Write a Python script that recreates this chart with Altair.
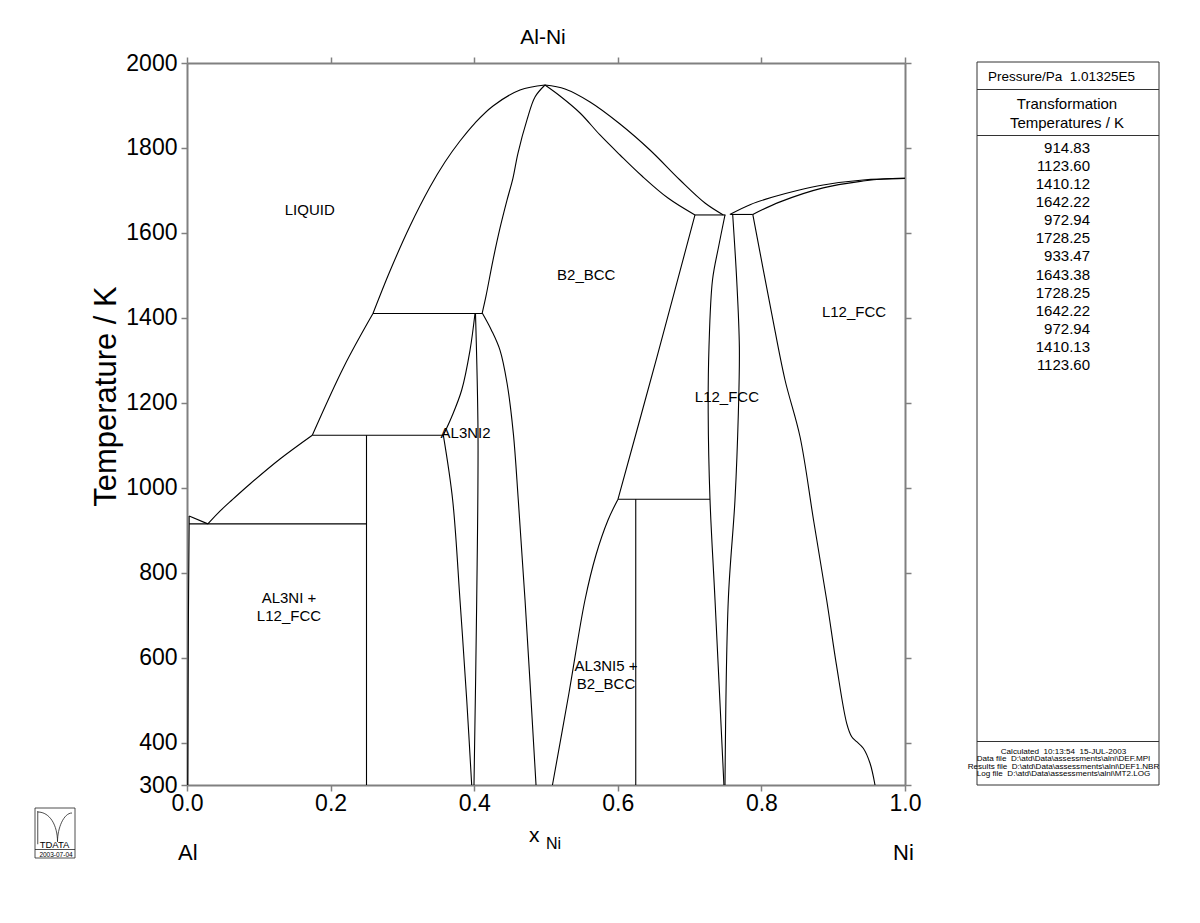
import altair as alt
import pandas as pd

# ---------------- phase-boundary data (x = mole fraction Ni, T in K) ----------------
al_liq_x = [0.003, 0.029]
al_liq_T = [933.47, 914.83]

al_solvus_x = [0.003, 0.003, 0.002, 0.001]
al_solvus_T = [933.47, 914.83, 700, 300]

eut_915_x = [0.003, 0.25]
eut_915_T = [914.83, 914.83]

al3ni_liq_x = [0.029, 0.0432, 0.0627, 0.0877, 0.1295, 0.1745]
al3ni_liq_T = [914.83, 940.4, 971.0, 1008.7, 1067.6, 1123.6]

per_1124_x = [0.1745, 0.357]
per_1124_T = [1123.6, 1123.6]

al3ni_x = [0.25, 0.25]
al3ni_T = [1123.6, 300]

liq_mid_x = [0.1745, 0.2185, 0.259]
liq_mid_T = [1123.6, 1285, 1410.12]

per_1410_x = [0.259, 0.412]
per_1410_T = [1410.12, 1410.12]

b2_liq_left_x = [0.259, 0.2827, 0.3106, 0.3384, 0.3593, 0.3802, 0.4011, 0.4262, 0.4638, 0.4986]
b2_liq_left_T = [1410.12, 1510.2, 1616.2, 1708.0, 1766.9, 1816.3, 1858.7, 1898.8, 1936.4, 1948.2]

b2_sol_left_x = [0.411, 0.4164, 0.4262, 0.4359, 0.4457, 0.454, 0.461, 0.4735, 0.4847, 0.4986]
b2_sol_left_T = [1410.12, 1451, 1536, 1611, 1677, 1729, 1788, 1866, 1920, 1948.2]

b2_liq_right_x = [0.4986, 0.5265, 0.5613, 0.6031, 0.6448, 0.6866, 0.7214, 0.747]
b2_liq_right_T = [1948.2, 1938.8, 1908.2, 1856.4, 1795.2, 1724.5, 1670.4, 1642.22]

b2_sol_right_x = [0.4986, 0.5195, 0.5474, 0.5752, 0.6031, 0.6337, 0.6699, 0.7075]
b2_sol_right_T = [1948.2, 1922.3, 1882.3, 1830.5, 1783.4, 1733.9, 1682.1, 1642.22]

per_1642_x = [0.7075, 0.75]
per_1642_T = [1642.22, 1642.22]

eut_1643_x = [0.757, 0.788]
eut_1643_T = [1643.38, 1643.38]

fcc_liq_x = [0.756, 0.785, 0.816, 0.85, 0.886, 0.9415, 1.0]
fcc_liq_T = [1643.38, 1667, 1684.5, 1700, 1712.7, 1724.5, 1728.25]

fcc_sol_x = [0.788, 0.826, 0.886, 0.9415, 0.97, 1.0]
fcc_sol_T = [1643.38, 1673, 1706, 1722, 1727, 1728.25]

b2_right_x = [0.7075, 0.6545, 0.6003]
b2_right_T = [1642.22, 1307.6, 972.94]

per_973_x = [0.6003, 0.7284]
per_973_T = [972.94, 972.94]

al3ni5_x = [0.625, 0.625]
al3ni5_T = [972.94, 300]

b2_solvus_x = [0.6003, 0.5864, 0.5696, 0.5543, 0.532, 0.509]
b2_solvus_T = [972.94, 924, 841.6, 735.6, 516.6, 300]

gp_left_x = [0.7493, 0.7403, 0.7319, 0.727, 0.7259, 0.7284, 0.7354, 0.7478]
gp_left_T = [1642.22, 1566.8, 1489.1, 1331.3, 1175.9, 972.94, 735.6, 300]

gp_right_x = [0.76, 0.7656, 0.7693, 0.7679, 0.7632, 0.7539, 0.7493]
gp_right_T = [1643.38, 1489.1, 1331.3, 1175.9, 971, 735.6, 300]

gamma_x = [0.788, 0.8143, 0.8329, 0.8538, 0.8726, 0.8909, 0.9049, 0.9188, 0.9258, 0.9327, 0.9419, 0.9513, 0.9582]
gamma_T = [1643.38, 1410.6, 1253.6, 1120, 924, 735.6, 578.6, 445.3, 413.7, 402, 386.4, 351.1, 300]

al3ni2_up_x = [0.4011, 0.3942, 0.3826, 0.3687, 0.357]
al3ni2_up_T = [1410.12, 1324, 1230, 1167, 1123.6]

al3ni2_low_x = [0.357, 0.37, 0.3802, 0.3896, 0.3965]
al3ni2_low_T = [1123.6, 971, 735.6, 500, 300]

al3ni2_right_x = [0.4018, 0.4053, 0.4035, 0.3997]
al3ni2_right_T = [1410.12, 1129, 735.6, 300]

b2_left_x = [0.4116, 0.424, 0.4359, 0.4457, 0.4545, 0.4614, 0.4708, 0.4861]
b2_left_T = [1410.12, 1371, 1324, 1246.5, 1128, 971, 735.6, 300]

# ---------------- phase labels (multi-line labels: T of first line) ----------------
label_x = [0.171, 0.556, 0.929, 0.752, 0.388, 0.142, 0.5836]
label_T = [1654, 1501, 1414, 1214, 1129, 740.3, 580.2]
label_text = ["LIQUID", "B2_BCC", "L12_FCC", "L12_FCC", "AL3NI2",
              "AL3NI +\nL12_FCC", "AL3NI5 +\nB2_BCC"]

# ---------------- side table ----------------
NB = "\u00a0"
pressure_text = f"Pressure/Pa{NB}{NB}1.01325E5"
table_header = ["Transformation", "Temperatures / K"]
trans_temps = ["914.83", "1123.60", "1410.12", "1642.22", "972.94", "1728.25", "933.47",
               "1643.38", "1728.25", "1642.22", "972.94", "1410.13", "1123.60"]
footer_lines = [f"Calculated{NB}{NB}10:13:54{NB}{NB}15-JUL-2003",
                f"Data file{NB}{NB}D:\\atd\\Data\\assessments\\alni\\DEF.MPI",
                f"Results file{NB}{NB}D:\\atd\\Data\\assessments\\alni\\DEF1.NBR",
                f"Log file{NB}{NB}D:\\atd\\Data\\assessments\\alni\\MT2.LOG"]

x_ticks = [0.0, 0.2, 0.4, 0.6, 0.8, 1.0]
y_ticks = [300, 400, 600, 800, 1000, 1200, 1400, 1600, 1800, 2000]

curves = [
    ("al_liq", al_liq_x, al_liq_T), ("al_solvus", al_solvus_x, al_solvus_T),
    ("eut915", eut_915_x, eut_915_T), ("al3ni_liq", al3ni_liq_x, al3ni_liq_T),
    ("per1124", per_1124_x, per_1124_T), ("al3ni", al3ni_x, al3ni_T),
    ("liq_mid", liq_mid_x, liq_mid_T), ("per1410", per_1410_x, per_1410_T),
    ("b2_liq_l", b2_liq_left_x, b2_liq_left_T), ("b2_sol_l", b2_sol_left_x, b2_sol_left_T),
    ("b2_liq_r", b2_liq_right_x, b2_liq_right_T), ("b2_sol_r", b2_sol_right_x, b2_sol_right_T),
    ("per1642", per_1642_x, per_1642_T), ("eut1643", eut_1643_x, eut_1643_T),
    ("fcc_liq", fcc_liq_x, fcc_liq_T), ("fcc_sol", fcc_sol_x, fcc_sol_T),
    ("b2_right", b2_right_x, b2_right_T), ("per973", per_973_x, per_973_T),
    ("al3ni5", al3ni5_x, al3ni5_T), ("b2_solvus", b2_solvus_x, b2_solvus_T),
    ("gp_left", gp_left_x, gp_left_T), ("gp_right", gp_right_x, gp_right_T),
    ("gamma", gamma_x, gamma_T), ("al3ni2_up", al3ni2_up_x, al3ni2_up_T),
    ("al3ni2_low", al3ni2_low_x, al3ni2_low_T), ("al3ni2_r", al3ni2_right_x, al3ni2_right_T),
    ("b2_left", b2_left_x, b2_left_T),
]
rows = []
for name, xs_, ts_ in curves:
    for i, (xv, tv) in enumerate(zip(xs_, ts_)):
        rows.append({"seg": name, "i": i, "x": xv, "T": tv})
lines_df = pd.DataFrame(rows)
labels_df = pd.DataFrame({"x": label_x, "T": label_T, "label": label_text})
one = pd.DataFrame({"a": [0]})

FONT = "Liberation Sans"
FRAME = "#808080"
W, H = 718, 722

xs = alt.Scale(domain=[0, 1], nice=False, zero=False)
ys = alt.Scale(domain=[300, 2000], nice=False, zero=False)

common_axis = dict(grid=False, tickSize=6, tickWidth=1.5, tickColor=FRAME,
                   domainColor=FRAME, domainWidth=2, labelFont=FONT,
                   labelColor="black", labelFontSize=23)

lines = alt.Chart(lines_df).mark_line(
    color="black", strokeWidth=1.1, interpolate="catmull-rom"
).encode(
    x=alt.X("x:Q", scale=xs, axis=alt.Axis(orient="bottom", values=x_ticks, format=".1f",
                                            title=None, labelFlush=False, labelPadding=1,
                                            **common_axis)),
    y=alt.Y("T:Q", scale=ys, axis=alt.Axis(orient="left", values=y_ticks, format="d",
                                            labelPadding=4, labelFlush=False,
                                            title="Temperature / K", titleFont=FONT,
                                            titleFontSize=31, titleFontWeight="normal",
                                            titleColor="black", titleX=-81, titleY=333,
                                            titleAngle=270, titleAlign="center",
                                            titleBaseline="middle", **common_axis)),
    detail="seg:N",
    order="i:Q",
)

frame = alt.Chart(lines_df).mark_point(opacity=0).encode(
    x=alt.X("x:Q", scale=xs, axis=alt.Axis(orient="top", values=x_ticks, labels=False,
                                            title=None, **common_axis)),
    y=alt.Y("T:Q", scale=ys, axis=alt.Axis(orient="right", values=y_ticks, labels=False,
                                            title=None, **common_axis)),
)

phase_labels = alt.Chart(labels_df).mark_text(
    font=FONT, fontSize=15, color="black", lineBreak="\n", lineHeight=18,
    align="center", baseline="middle"
).encode(
    x=alt.X("x:Q", scale=xs, axis=None),
    y=alt.Y("T:Q", scale=ys, axis=None),
    text="label:N",
)


def ptext(x, y, text, size, align="center", baseline="alphabetic", line_height=None):
    kw = dict(font=FONT, fontSize=size, color="black", align=align, baseline=baseline)
    if line_height is not None:
        kw["lineHeight"] = line_height
    return alt.Chart(one).mark_text(**kw).encode(
        x=alt.value(x), y=alt.value(y), text=alt.value(text))


def prule(x1, y1, x2, y2, color="black", width=1):
    return alt.Chart(one).mark_rule(color=color, strokeWidth=width).encode(
        x=alt.value(x1), y=alt.value(y1), x2=alt.value(x2), y2=alt.value(y2))


# plot-area origin is at page (187, 63); pixel values below are relative to it
title = ptext(356, -19, "Al-Ni", 21)
x_sym = ptext(342, 779, "x", 21, align="left")
x_sub = ptext(359, 786, "Ni", 16, align="left")
al_end = ptext(-9, 797, "Al", 22, align="left")
ni_end = ptext(706, 797, "Ni", 22, align="left")

box = alt.Chart(one).mark_rect(fillOpacity=0, stroke="#333", strokeWidth=1).encode(
    x=alt.value(790), x2=alt.value(972), y=alt.value(-1), y2=alt.value(722))
div1 = prule(790, 26.5, 972, 26.5, "#333")
div2 = prule(790, 72.5, 972, 72.5, "#333")
div3 = prule(790, 678.5, 972, 678.5, "#333")
pressure = ptext(874.5, 18, pressure_text, 13.5)
header = ptext(880, 46, table_header, 15, line_height=19)
temps = ptext(903, 90, trans_temps, 15, align="right", line_height=18.08)
footer = ptext(876.5, 691, footer_lines, 8.1, line_height=7.4)

logo_path = ("M-0.8,-1 L0.8,-1 L0.8,1 L-0.8,1 Z M-0.8,0.66 L0.8,0.66 "
             "M-0.69,-0.88 L-0.69,0.45 M-0.69,-0.84 C-0.2,-0.84 0.1,-0.3 0.1,0.35 "
             "C0.1,-0.2 0.35,-0.8 0.68,-0.8")
logo = alt.Chart(one).mark_point(shape=logo_path, filled=False, color="#222",
                                 strokeWidth=0.8, size=2500, opacity=1).encode(
    x=alt.value(-132), y=alt.value(770))
logo_name = ptext(-132.5, 785, "TDATA", 9.5)
logo_date = ptext(-131, 794, "2003-07-04", 6.5)

chart = alt.layer(
    lines, frame, phase_labels, title, x_sym, x_sub, al_end, ni_end,
    box, div1, div2, div3, pressure, header, temps, footer,
    logo, logo_name, logo_date,
).resolve_axis(x="independent", y="independent").properties(
    width=W, height=H,
    autosize=alt.AutoSizeParams(type="none"),
    padding={"left": 187, "top": 63, "right": 1200 - 187 - W, "bottom": 923 - 63 - H},
    background="white",
).configure_view(stroke=None)

chart.save("out.html", embed_options={"renderer": "svg", "actions": False})
